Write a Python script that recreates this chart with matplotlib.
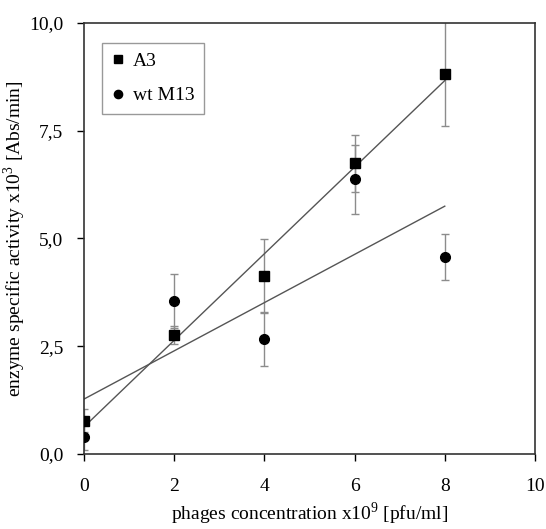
import numpy as np
import matplotlib.pyplot as plt
from matplotlib.ticker import FuncFormatter

plt.rcParams['font.family'] = ['Liberation Serif', 'DejaVu Serif']
plt.rcParams['mathtext.fontset'] = 'custom'
plt.rcParams['mathtext.rm'] = 'Liberation Serif'

# phage concentration x10^9 [pfu/ml]
conc = [0, 2, 4, 6, 8]

# A3 phage
a3_mean = [0.77, 2.76, 4.13, 6.75, 8.82]
a3_err = [0.27, 0.20, 0.85, 0.66, 1.21]

# wild type M13
wt_mean = [0.39, 3.55, 2.67, 6.38, 4.57]
wt_err = [0.30, 0.62, 0.63, 0.80, 0.53]

y_ticks = [0, 2.5, 5, 7.5, 10]
x_ticks = [0, 2, 4, 6, 8, 10]

fig = plt.figure(figsize=(5.46, 5.29), dpi=100)
ax = fig.add_axes([0.1538, 0.1418, 0.8260, 0.8147])

# linear fits
xs = np.array([conc[0], conc[-1]])
for ys in (a3_mean, wt_mean):
    k, b = np.polyfit(conc, ys, 1)
    ax.plot(xs, k * xs + b, color='#555555', lw=1.0, zorder=2)

ax.errorbar(conc, a3_mean, yerr=a3_err, fmt='none', ecolor='#8c8c8c',
            elinewidth=1.0, capsize=3, capthick=1.0, zorder=1)
ax.errorbar(conc, wt_mean, yerr=wt_err, fmt='none', ecolor='#8c8c8c',
            elinewidth=1.0, capsize=3, capthick=1.0, zorder=1)

ax.plot(conc, a3_mean, 's', color='black', ms=7, label='A3', zorder=3)
ax.plot(conc, wt_mean, 'o', color='black', ms=7, label='wt M13', zorder=3)

ax.set_xlim(0, 10)
ax.set_ylim(0, 10)
ax.set_xticks(x_ticks)
ax.set_yticks(y_ticks)
ax.yaxis.set_major_formatter(FuncFormatter(lambda v, p: f'{v:.1f}'.replace('.', ',')))
ax.tick_params(direction='out', length=5, width=1.0, labelsize=14)
ax.tick_params(axis='y', pad=10)
ax.tick_params(axis='x', pad=12)
for s in ax.spines.values():
    s.set_linewidth(1.2)
    s.set_color('#333333')

ax.set_xlabel('phages concentration x10$^{9}$ [pfu/ml]', fontsize=14, labelpad=4)
ax.set_ylabel('enzyme specific activity x10$^{3}$ [Abs/min]', fontsize=14, labelpad=1)

leg = ax.legend(loc='upper left', bbox_to_anchor=(0.04, 0.954), borderaxespad=0,
                fontsize=14, fancybox=False, framealpha=1, edgecolor='#999999',
                handlelength=0.6, handletextpad=0.5, labelspacing=0.85,
                borderpad=0.5, markerscale=0.85)
leg.get_frame().set_linewidth(1.0)

fig.savefig('out.png', dpi=100)
